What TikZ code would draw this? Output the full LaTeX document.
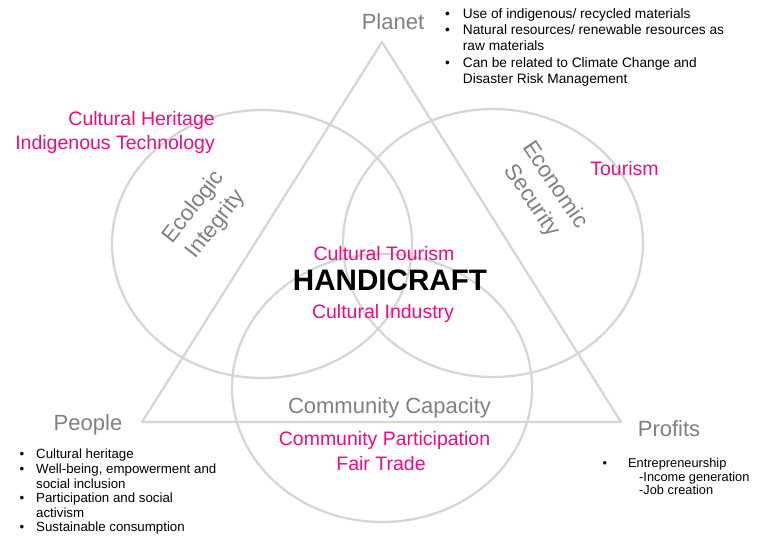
\documentclass[tikz,border=0pt]{standalone}
\usepackage{fontspec}
\setmainfont{Liberation Sans}
\usetikzlibrary{shapes.geometric}
\definecolor{ringgray}{RGB}{214,214,214}
\definecolor{labelgray}{RGB}{128,128,128}
\definecolor{accent}{RGB}{240,10,130}

\begin{document}
\begin{tikzpicture}[x=1pt,y=-1pt,
  ring/.style={draw=ringgray, line width=2.3pt, ellipse, minimum width=300pt,
               minimum height=268pt, inner sep=0pt},
  frame/.style={draw=ringgray, line width=2.3pt, line join=round},
  pillar/.style={text=labelgray, font=\fontsize{22}{26}\selectfont, inner sep=0pt, anchor=base},
  axis/.style={text=labelgray, font=\fontsize{22.5}{28}\selectfont, align=center, inner sep=0pt},
  pink/.style={text=accent, font=\fontsize{19.5}{23}\selectfont, inner sep=0pt, anchor=base},
  core/.style={font=\bfseries\fontsize{29.6}{34}\selectfont, inner sep=0pt, anchor=base},
  notes/.style={align=left, inner sep=0pt, anchor=north west}
]
\useasboundingbox (0,0) rectangle (759,543);

% the three overlapping rings
\node[ring] (ecoring) at (262,244) {};
\node[ring] (econring) at (493,243) {};
\node[ring] (commring) at (382,388) {};

% the triangle of planet, people and profits
\coordinate (planetV) at (382,42);
\coordinate (peopleV) at (142,422);
\coordinate (profitsV) at (621,422);
\draw[frame] (planetV) -- (profitsV) -- (peopleV) -- cycle;

% corner labels
\node[pillar] (planet) at (393,30) {Planet};
\node[pillar] (people) at (88,430) {People};
\node[pillar] (profits) at (669,436) {Profits};

% ring labels
\node[axis, rotate=52] (ecolabel) at (205,216) {Ecologic\\Integrity};
\node[axis, rotate=-56] (econlabel) at (543,193) {Economic\\Security};
\node[pillar] (commlabel) at (389.5,413) {Community Capacity};

% centre
\node[pink] (ctour) at (384,260) {Cultural Tourism};
\node[core] (craft) at (390,290.5) {HANDICRAFT};
\node[pink] (cind) at (383,318) {Cultural Industry};

% keywords per ring
\node[pink, anchor=base east] (cher) at (215,125) {Cultural Heritage};
\node[pink, anchor=base east] (itech) at (215,149) {Indigenous Technology};
\node[pink] (tour) at (624.5,175) {Tourism};
\node[pink] (cpart) at (384.5,445) {Community Participation};
\node[pink] (ftrade) at (381,470) {Fair Trade};

% notes
\node[notes, font=\fontsize{13.7}{16.3}\selectfont] (planetnotes) at (445,8)
  {\makebox[17.7pt][l]{\textbullet}Use of indigenous/ recycled materials\\
   \makebox[17.7pt][l]{\textbullet}Natural resources/ renewable resources as\\
   \hspace*{17.7pt}raw materials\\
   \makebox[17.7pt][l]{\textbullet}Can be related to Climate Change and\\
   \hspace*{17.7pt}Disaster Risk Management};

\node[notes, font=\fontsize{13.3}{14.6}\selectfont] (peoplenotes) at (19.5,449)
  {\makebox[16.5pt][l]{\textbullet}Cultural heritage\\
   \makebox[16.5pt][l]{\textbullet}Well-being, empowerment and\\
   \hspace*{16.5pt}social inclusion\\
   \makebox[16.5pt][l]{\textbullet}Participation and social\\
   \hspace*{16.5pt}activism\\
   \makebox[16.5pt][l]{\textbullet}Sustainable consumption};

\node[notes, font=\fontsize{12.8}{13.6}\selectfont] (profitnotes) at (602.5,458)
  {\makebox[25.5pt][l]{\textbullet}Entrepreneurship\\
   \hspace*{36.5pt}-Income generation\\
   \hspace*{36.5pt}-Job creation};
\end{tikzpicture}
\end{document}
